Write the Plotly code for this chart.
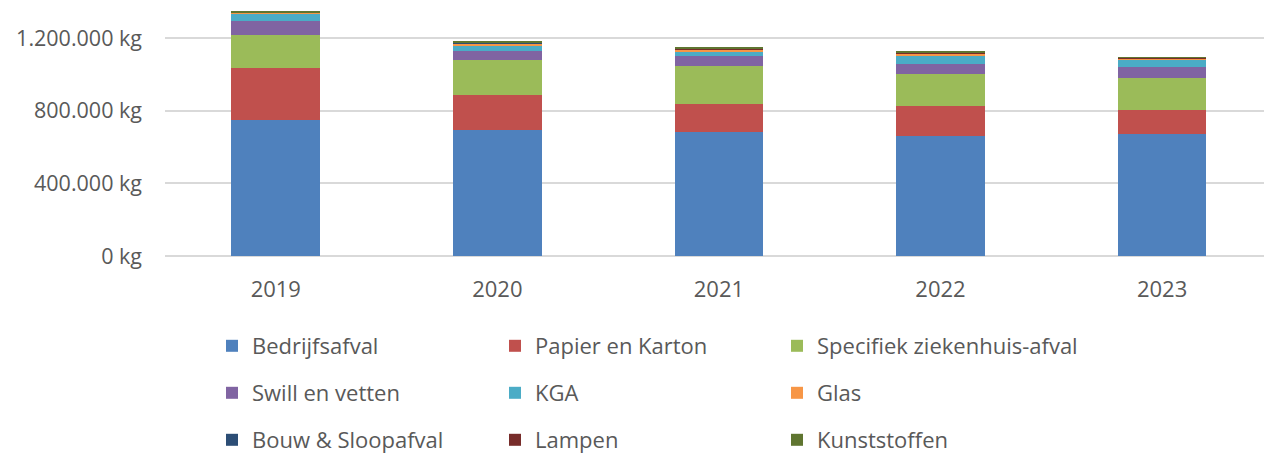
import plotly.graph_objects as go

years = ["2019", "2020", "2021", "2022", "2023"]
bedrijfsafval = [749000, 694000, 683000, 662000, 675000]
papier_karton = [290000, 192000, 154000, 165000, 132000]
specifiek = [181000, 195000, 213000, 178000, 176000]
swill = [75000, 50000, 53000, 51000, 59000]
kga = [41000, 30000, 26000, 50000, 41000]
glas = [5000, 11000, 9000, 9000, 7000]
bouw = [2000, 3000, 2000, 2000, 1000]
lampen = [1000, 2000, 1000, 1000, 1000]
kunststoffen = [2000, 5000, 7000, 13000, 3000]

tick_vals = [0, 400000, 800000, 1200000]
tick_text = ["0 kg", "400.000 kg", "800.000 kg", "1.200.000 kg"]

series = [
    ("Bedrijfsafval", bedrijfsafval, "#4F81BD"),
    ("Papier en Karton", papier_karton, "#C0504D"),
    ("Specifiek ziekenhuis-afval", specifiek, "#9BBB59"),
    ("Swill en vetten", swill, "#8064A2"),
    ("KGA", kga, "#4BACC6"),
    ("Glas", glas, "#F79646"),
    ("Bouw & Sloopafval", bouw, "#2C4D75"),
    ("Lampen", lampen, "#772C2A"),
    ("Kunststoffen", kunststoffen, "#5F7530"),
]

font_family = "Open Sans, Liberation Sans, sans-serif"
FS = 22
W, H = 1264, 454
ml, mr, mt, mb = 165, 0, 2, 198
ph = H - mt - mb
pw = W - ml - mr

col_x = [212, 495, 777]
row_y = [346, 393, 440]

fig = go.Figure()
legends = {}
for i, (name, vals, color) in enumerate(series):
    key = "legend" if i == 0 else f"legend{i + 1}"
    fig.add_trace(go.Bar(x=years, y=vals, name=name, legend=key,
                         marker=dict(color=color, line=dict(width=0))))
    r, c = divmod(i, 3)
    legends[key] = dict(
        orientation="h", x=(col_x[c] - ml) / pw, xanchor="left",
        y=1 - (row_y[r] - mt) / ph, yanchor="middle",
        font=dict(family=font_family, size=FS, color="#595959"),
        bgcolor="rgba(0,0,0,0)", itemclick=False, itemdoubleclick=False)

fig.update_layout(
    barmode="stack",
    bargap=0.6,
    width=W, height=H,
    margin=dict(l=ml, r=mr, t=mt, b=mb, autoexpand=False),
    plot_bgcolor="white", paper_bgcolor="white",
    font=dict(family=font_family, size=FS, color="#595959"),
    xaxis=dict(range=[-0.5, 4.46], showgrid=False, showline=False, ticks="",
               ticklabelstandoff=18, tickfont=dict(size=FS, color="#595959")),
    yaxis=dict(range=[0, 1400000], tickvals=tick_vals, ticktext=tick_text,
               showgrid=True, gridcolor="#D9D9D9", gridwidth=1.5,
               zeroline=True, zerolinecolor="#D9D9D9", zerolinewidth=1.5,
               showline=False, ticks="", ticklabelstandoff=22,
               tickfont=dict(size=21.5, color="#595959")),
    showlegend=True,
    **legends,
)

fig.write_html("out.html", config={"displayModeBar": False},
               post_script="document.body.style.margin='0px';document.body.style.overflow='hidden';")
